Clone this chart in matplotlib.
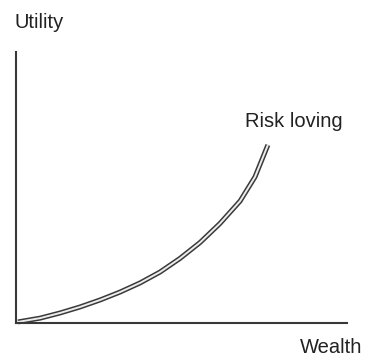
import matplotlib
matplotlib.use("Agg")
import matplotlib.pyplot as plt

# Convex utility curve of a risk-loving agent (wealth on x, utility on y)
wealth = [0.6, 7.3, 13.3, 19.3, 25.4, 31.4, 37.5, 43.5, 49.5, 55.6, 61.6, 67.7, 72.2, 76.1]
utility = [0.4, 1.8, 3.7, 5.9, 8.5, 11.4, 14.8, 18.8, 23.8, 29.7, 36.7, 45.0, 53.9, 65.7]

x_label = "Wealth"
y_label = "Utility"
curve_label = "Risk loving"

plt.rcParams['font.family'] = ['Liberation Sans', 'DejaVu Sans']

W, H = 365, 362
fig = plt.figure(figsize=(W / 100, H / 100), dpi=100)
ax = fig.add_axes([16 / W, (H - 323) / H, 331 / W, 271 / H])
ax.set_xlim(0, 100)
ax.set_ylim(0, 100)

for side in ("top", "right"):
    ax.spines[side].set_visible(False)
for side in ("left", "bottom"):
    ax.spines[side].set_linewidth(1.5)
    ax.spines[side].set_color("#383838")
ax.set_xticks([])
ax.set_yticks([])
ax.patch.set_alpha(0)

# Double-stroke curve: dark outline with a pale core
ax.plot(wealth, utility, color="#3a3a3a", lw=3.6, solid_capstyle="butt",
        solid_joinstyle="round", clip_on=False)
ax.plot(wealth, utility, color="#ececec", lw=1.4, solid_capstyle="butt",
        solid_joinstyle="round", clip_on=False)

fs = 14.5
fig.text(15 / W, 1 - 28 / H, y_label, fontsize=fs, color="#222222",
         ha="left", va="baseline")
fig.text(245 / W, 1 - 127 / H, curve_label, fontsize=fs, color="#222222",
         ha="left", va="baseline")
fig.text(362 / W, 1 - 353 / H, x_label, fontsize=fs, color="#222222",
         ha="right", va="baseline")

fig.savefig("out.png", dpi=100)
